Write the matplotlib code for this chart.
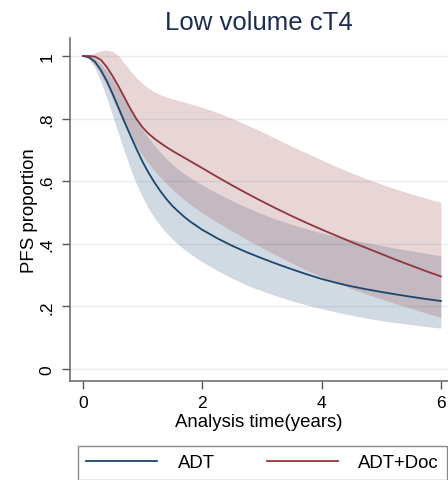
import numpy as np
import matplotlib
matplotlib.use("Agg")
import matplotlib.pyplot as plt
from matplotlib.lines import Line2D

plt.rcParams['font.family'] = ['Liberation Sans', 'DejaVu Sans']

# analysis time (years)
t = [0, 0.1, 0.2, 0.3, 0.4, 0.5, 0.6, 0.7, 0.8, 0.9, 1.0, 1.1, 1.2, 1.3, 1.4,
     1.5, 1.6, 1.7, 1.8, 1.9, 2.0, 2.25, 2.5, 2.75, 3.0, 3.25, 3.5, 3.75, 4.0,
     4.25, 4.5, 4.75, 5.0, 5.25, 5.5, 5.75, 6.0]

# ADT
adt = [1.0, 0.996, 0.982, 0.955, 0.92, 0.878, 0.833, 0.788, 0.744, 0.702, 0.662,
       0.627, 0.596, 0.568, 0.543, 0.521, 0.503, 0.486, 0.471, 0.458, 0.445,
       0.418, 0.394, 0.373, 0.354, 0.336, 0.319, 0.303, 0.288,
       0.2755, 0.2645, 0.255, 0.2465, 0.2385, 0.231, 0.224, 0.2175]
adt_lo = [1.0, 0.99, 0.962, 0.918, 0.866, 0.808, 0.75, 0.692, 0.638, 0.59, 0.548,
          0.513, 0.483, 0.457, 0.435, 0.415, 0.398, 0.382, 0.368, 0.355, 0.343,
          0.315, 0.29, 0.268, 0.25, 0.233, 0.218, 0.205, 0.193,
          0.182, 0.172, 0.163, 0.155, 0.148, 0.142, 0.136, 0.131]
adt_hi = [1.0, 1.0, 0.993, 0.976, 0.952, 0.925, 0.895, 0.862, 0.828, 0.795, 0.765,
          0.738, 0.714, 0.692, 0.672, 0.654, 0.638, 0.624, 0.611, 0.599, 0.588,
          0.562, 0.538, 0.516, 0.496, 0.478, 0.462, 0.448, 0.435,
          0.424, 0.414, 0.404, 0.395, 0.386, 0.378, 0.37, 0.362]

# ADT+Doc
doc = [1.0, 1.0, 0.998, 0.988, 0.965, 0.935, 0.902, 0.866, 0.83, 0.798, 0.772,
       0.752, 0.736, 0.722, 0.709, 0.697, 0.686, 0.675, 0.664, 0.653, 0.642,
       0.614, 0.587, 0.561, 0.536, 0.512, 0.489, 0.467, 0.446,
       0.426, 0.406, 0.387, 0.368, 0.349, 0.331, 0.313, 0.296]
doc_lo = [1.0, 0.992, 0.972, 0.942, 0.905, 0.862, 0.818, 0.778, 0.742, 0.71, 0.682,
          0.656, 0.633, 0.612, 0.592, 0.574, 0.557, 0.541, 0.526, 0.512, 0.499,
          0.469, 0.441, 0.414, 0.388, 0.363, 0.339, 0.316, 0.295,
          0.275, 0.257, 0.24, 0.224, 0.209, 0.194, 0.179, 0.165]
doc_hi = [1.0, 1.002, 1.01, 1.017, 1.019, 1.015, 1.0, 0.975, 0.952, 0.93, 0.912,
          0.897, 0.885, 0.876, 0.869, 0.863, 0.858, 0.853, 0.847, 0.842, 0.836,
          0.82, 0.801, 0.78, 0.758, 0.735, 0.712, 0.69, 0.668,
          0.647, 0.627, 0.608, 0.591, 0.575, 0.56, 0.546, 0.533]

yticks = [0, 0.2, 0.4, 0.6, 0.8, 1.0]
ytick_labels = ['0', '.2', '.4', '.6', '.8', '1']
xticks = [0, 2, 4, 6]

navy = '#1a476f'
maroon = '#90353b'

fig = plt.figure(figsize=(4.48, 4.81), dpi=100)
ax = fig.add_axes([70 / 448, 1 - 382 / 481, 1 - 70 / 448, (382 - 39) / 481])

ax.fill_between(t, adt_lo, adt_hi, color=navy, alpha=0.2, linewidth=0)
ax.fill_between(t, doc_lo, doc_hi, color=maroon, alpha=0.2, linewidth=0)
ax.plot(t, adt, color=navy, lw=1.3)
ax.plot(t, doc, color=maroon, lw=1.3)

ax.set_xlim(-0.217, 6.12)
ax.set_ylim(-0.038, 1.0575)
ax.set_xticks(xticks)
ax.set_yticks(yticks)
ax.set_yticklabels(ytick_labels)
for lab in ax.get_yticklabels():
    lab.set_rotation(90)
    lab.set_va('center')

ax.grid(axis='y', color='#e6eef0', lw=1.0)
ax.set_axisbelow(True)
for s in ['top', 'right']:
    ax.spines[s].set_visible(False)
for s in ['left', 'bottom']:
    ax.spines[s].set_color('#707070')
    ax.spines[s].set_linewidth(1.2)
ax.tick_params(axis='both', colors='#555555', length=6, width=1.0,
               labelsize=12.5, labelcolor='black')
ax.tick_params(axis='y', pad=5)
ax.tick_params(axis='x', pad=4)

ax.set_xlabel('Analysis time(years)', fontsize=13.4, labelpad=2)
ax.set_ylabel('PFS proportion', fontsize=13.4, labelpad=1)
ax.set_title('Low volume cT4', fontsize=18.5, color='#1e2d4f', pad=6.5)

handles = [Line2D([], [], color=navy, lw=1.3), Line2D([], [], color=maroon, lw=1.3)]
leg = fig.legend(handles, ['ADT', 'ADT+Doc'], loc='upper left',
                 bbox_to_anchor=(78 / 448, 1 - 447 / 481, (447 - 78) / 448, 0.0),
                 mode='expand', ncol=2, fontsize=13.4, handlelength=3.8,
                 handletextpad=1.1, borderpad=0.45, borderaxespad=0,
                 fancybox=False, frameon=True)
leg.get_frame().set_edgecolor('#6e6e6e')
leg.get_frame().set_linewidth(1.0)

fig.savefig('out.png', dpi=100)
